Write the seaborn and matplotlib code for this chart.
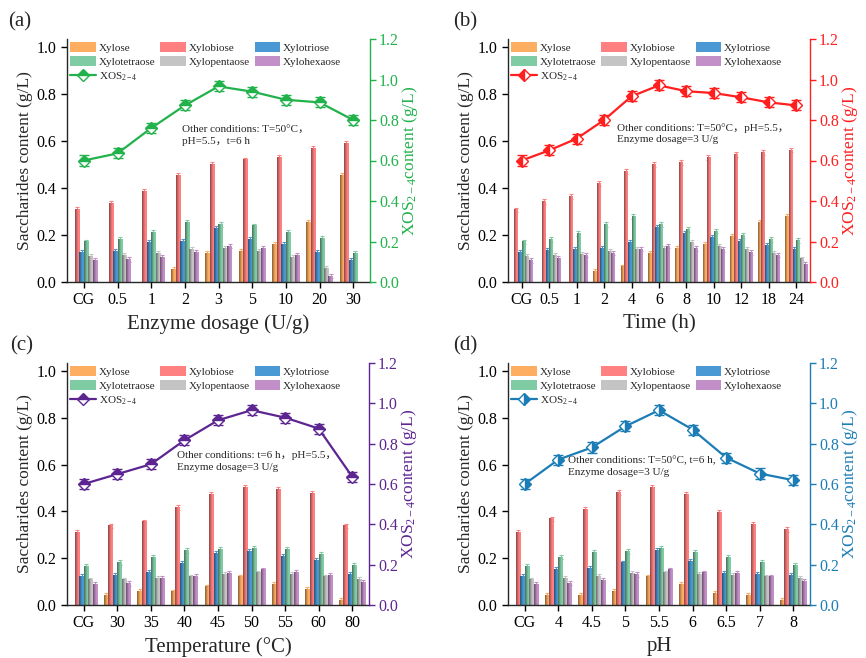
import numpy as np
import pandas as pd
import matplotlib
matplotlib.use('Agg')
import matplotlib.pyplot as plt
import seaborn as sns
from matplotlib.colors import to_rgb
from matplotlib.lines import Line2D
from matplotlib.patches import Patch

sns.set_style('ticks')
plt.rcParams['font.family'] = ['Liberation Serif', 'Noto Sans CJK SC']
plt.rcParams['mathtext.fontset'] = 'custom'
plt.rcParams['mathtext.rm'] = 'Liberation Serif'
plt.rcParams['mathtext.it'] = 'Liberation Serif:italic'

sugars = ['Xylose', 'Xylobiose', 'Xylotriose', 'Xylotetraose', 'Xylopentaose', 'Xylohexaose']
bar_colors = ['#FDAE61', '#FF8080', '#4A98D4', '#7FCBA4', '#C4C4C4', '#C38FC8']

# ---- (a) enzyme dosage ----
a_labels = ['CG', '0.5', '1', '2', '3', '5', '10', '20', '30']
a_xylose = [0, 0, 0, 0.054, 0.122, 0.132, 0.161, 0.252, 0.453]
a_xylobiose = [0.31, 0.335, 0.385, 0.455, 0.50, 0.52, 0.53, 0.57, 0.59]
a_xylotriose = [0.127, 0.132, 0.167, 0.174, 0.229, 0.181, 0.16, 0.127, 0.091]
a_xylotetraose = [0.171, 0.18, 0.21, 0.254, 0.244, 0.239, 0.212, 0.187, 0.123]
a_xylopentaose = [0.109, 0.113, 0.122, 0.139, 0.144, 0.132, 0.106, 0.059, 0]
a_xylohexaose = [0.091, 0.096, 0.103, 0.127, 0.153, 0.143, 0.113, 0.025, 0]
a_xos = [0.60, 0.635, 0.76, 0.872, 0.966, 0.94, 0.90, 0.887, 0.80]

# ---- (b) time ----
b_labels = ['CG', '0.5', '1', '2', '4', '6', '8', '10', '12', '18', '24']
b_xylose = [0, 0, 0, 0.044, 0.064, 0.122, 0.142, 0.161, 0.193, 0.252, 0.279]
b_xylobiose = [0.307, 0.342, 0.364, 0.42, 0.47, 0.50, 0.51, 0.53, 0.543, 0.553, 0.562]
b_xylotriose = [0.127, 0.135, 0.139, 0.144, 0.169, 0.231, 0.208, 0.191, 0.174, 0.157, 0.14]
b_xylotetraose = [0.171, 0.18, 0.208, 0.245, 0.278, 0.245, 0.224, 0.217, 0.197, 0.181, 0.176]
b_xylopentaose = [0.109, 0.113, 0.116, 0.129, 0.137, 0.143, 0.17, 0.153, 0.137, 0.123, 0.098]
b_xylohexaose = [0.091, 0.099, 0.115, 0.123, 0.14, 0.153, 0.143, 0.139, 0.125, 0.115, 0.076]
b_xos = [0.60, 0.65, 0.708, 0.80, 0.917, 0.971, 0.942, 0.933, 0.912, 0.887, 0.872]

# ---- (c) temperature ----
c_labels = ['CG', '30', '35', '40', '45', '50', '55', '60', '80']
c_xylose = [0, 0.04, 0.057, 0.056, 0.077, 0.12, 0.088, 0.068, 0.02]
c_xylobiose = [0.31, 0.338, 0.355, 0.417, 0.473, 0.503, 0.496, 0.477, 0.338]
c_xylotriose = [0.124, 0.128, 0.138, 0.178, 0.219, 0.229, 0.207, 0.189, 0.131]
c_xylotetraose = [0.165, 0.182, 0.205, 0.232, 0.236, 0.242, 0.236, 0.218, 0.171]
c_xylopentaose = [0.107, 0.107, 0.114, 0.12, 0.132, 0.137, 0.131, 0.12, 0.11]
c_xylohexaose = [0.088, 0.091, 0.113, 0.124, 0.134, 0.15, 0.14, 0.125, 0.095]
c_xos = [0.60, 0.649, 0.698, 0.817, 0.916, 0.966, 0.929, 0.875, 0.636]

# ---- (d) pH ----
d_labels = ['CG', '4', '4.5', '5', '5.5', '6', '6.5', '7', '8']
d_xylose = [0, 0.04, 0.04, 0.057, 0.12, 0.088, 0.048, 0.04, 0.02]
d_xylobiose = [0.31, 0.368, 0.41, 0.48, 0.503, 0.474, 0.395, 0.345, 0.323]
d_xylotriose = [0.124, 0.152, 0.158, 0.18, 0.232, 0.185, 0.135, 0.13, 0.128]
d_xylotetraose = [0.165, 0.205, 0.225, 0.229, 0.242, 0.225, 0.204, 0.181, 0.171]
d_xylopentaose = [0.107, 0.115, 0.121, 0.134, 0.137, 0.132, 0.128, 0.12, 0.115]
d_xylohexaose = [0.088, 0.094, 0.105, 0.13, 0.15, 0.137, 0.134, 0.12, 0.101]
d_xos = [0.60, 0.721, 0.781, 0.886, 0.966, 0.87, 0.731, 0.652, 0.619]

bar_err = 0.01
line_err = 0.025

panels = [
    dict(tag='(a)', labels=a_labels,
         series=[a_xylose, a_xylobiose, a_xylotriose, a_xylotetraose, a_xylopentaose, a_xylohexaose],
         xos=a_xos, color='#22B24C', fill='top', xlabel='Enzyme dosage (U/g)',
         note='Other conditions: T=50°C，\npH=5.5，t=6 h', note_xy=(0.38, 0.645)),
    dict(tag='(b)', labels=b_labels,
         series=[b_xylose, b_xylobiose, b_xylotriose, b_xylotetraose, b_xylopentaose, b_xylohexaose],
         xos=b_xos, color='#FF1F1F', fill='left', xlabel='Time (h)',
         note='Other conditions: T=50°C，pH=5.5，\nEnzyme dosage=3 U/g', note_xy=(0.36, 0.655)),
    dict(tag='(c)', labels=c_labels,
         series=[c_xylose, c_xylobiose, c_xylotriose, c_xylotetraose, c_xylopentaose, c_xylohexaose],
         xos=c_xos, color='#5C2591', fill='top', xlabel='Temperature (°C)',
         note='Other conditions: t=6 h，pH=5.5，\nEnzyme dosage=3 U/g', note_xy=(0.364, 0.635)),
    dict(tag='(d)', labels=d_labels,
         series=[d_xylose, d_xylobiose, d_xylotriose, d_xylotetraose, d_xylopentaose, d_xylohexaose],
         xos=d_xos, color='#1C7DB6', fill='right', xlabel='pH',
         note='Other conditions: T=50°C, t=6 h,\nEnzyme dosage=3 U/g', note_xy=(0.20, 0.615)),
]

W, H = 866, 658
fig = plt.figure(figsize=(W / 100, H / 100), dpi=100)
boxes = [(67, 39, 370, 282), (508, 39, 810, 282), (67, 363, 369, 605), (508, 363, 810, 605)]
tag_pos = [(20, 22), (465, 22), (22, 346), (465, 346)]

XOS = 'XOS$_{\\mathregular{2-4}}$'


def shade_bar(ax, patch, color):
    h = patch.get_height()
    if h <= 0:
        return
    x0, y0, w = patch.get_x(), patch.get_y(), patch.get_width()
    base = np.array(to_rgb(color))
    dark = base * 0.55
    t = np.linspace(0, 1, 24)
    ramp = np.clip(t / 0.65, 0, 1)[:, None]
    arr = (dark + (base - dark) * ramp)[None, :, :]
    ax.imshow(arr, extent=[x0, x0 + w, y0, y0 + h], aspect='auto',
              interpolation='bilinear', zorder=patch.get_zorder() + 0.1)


for p, (l, t, r, b), tp in zip(panels, boxes, tag_pos):
    ax = fig.add_axes([l / W, 1 - b / H, (r - l) / W, (b - t) / H])
    n = len(p['labels'])
    df = pd.DataFrame({
        'cond': np.tile(p['labels'], len(sugars)),
        'sugar': np.repeat(sugars, n),
        'value': np.concatenate([np.asarray(s, float) for s in p['series']]),
    })
    sns.barplot(data=df, x='cond', y='value', hue='sugar', order=p['labels'],
                hue_order=sugars, palette=bar_colors, width=0.8, errorbar=None,
                legend=False, ax=ax, linewidth=0, saturation=1)
    for cont, col in zip(ax.containers, bar_colors):
        xs, ys = [], []
        for patch in cont.patches:
            shade_bar(ax, patch, col)
            if patch.get_height() > 0:
                xs.append(patch.get_x() + patch.get_width() / 2)
                ys.append(patch.get_height())
        ax.errorbar(xs, ys, yerr=bar_err, fmt='none', ecolor=col, elinewidth=0.8,
                    capsize=1.6, capthick=0.8, zorder=0.5)
    ax.set_xlim(-0.5, n - 0.5)
    ax.set_ylim(0, 1.035)
    ax.set_yticks(np.arange(0, 1.01, 0.2))
    ax.set_yticklabels([f'{v:.1f}' for v in np.arange(0, 1.01, 0.2)])
    ax.tick_params(labelsize=11.5, length=4, width=1, direction='out', colors='black')
    ax.set_xlabel(p['xlabel'], fontsize=15, labelpad=4)
    ax.set_ylabel('Saccharides content (g/L)', fontsize=12.5, labelpad=3)
    ax.spines['top'].set_visible(False)
    ax.spines['right'].set_visible(False)
    for s in ['left', 'bottom']:
        ax.spines[s].set_linewidth(1)

    ax2 = ax.twinx()
    xpos = np.arange(n)
    col = p['color']
    ax2.errorbar(xpos, p['xos'], yerr=line_err, color=col, lw=1.6, capsize=3.5,
                 capthick=1.2, elinewidth=1.2, marker='D', markersize=6,
                 markerfacecolor=col, markerfacecoloralt='white', fillstyle=p['fill'],
                 markeredgecolor=col, markeredgewidth=1, zorder=3)
    ax2.set_ylim(0, 1.2)
    ax2.set_yticks(np.arange(0, 1.21, 0.2))
    ax2.set_yticklabels([f'{v:.1f}' for v in np.arange(0, 1.21, 0.2)])
    ax2.tick_params(labelsize=11.5, length=4, width=1, colors=col, pad=2.5)
    for s in ['top', 'left', 'bottom']:
        ax2.spines[s].set_visible(False)
    ax2.spines['right'].set_color(col)
    ax2.spines['right'].set_linewidth(1)
    ax2.set_ylabel(XOS + 'content (g/L)', fontsize=12.5, color=col, labelpad=1)

    handles = [Patch(facecolor=c, edgecolor='none') for c in bar_colors]
    line_h = Line2D([], [], color=col, lw=1.6, marker='D', markersize=6,
                    markerfacecolor=col, markerfacecoloralt='white',
                    fillstyle=p['fill'], markeredgecolor=col)
    order_h = [handles[0], handles[3], line_h, handles[1], handles[4], handles[2], handles[5]]
    order_l = [sugars[0], sugars[3], XOS, sugars[1], sugars[4], sugars[2], sugars[5]]
    ax2.legend(order_h, order_l, ncol=3, loc='upper left', bbox_to_anchor=(0.0, 1.0),
               frameon=False, fontsize=8, handlelength=2.3, handleheight=1.0,
               handletextpad=0.25, columnspacing=0.45, labelspacing=0.3,
               borderaxespad=0.2, borderpad=0.1)

    ax2.text(p['note_xy'][0], p['note_xy'][1], p['note'], transform=ax2.transAxes,
             fontsize=8, va='top', ha='left', linespacing=1.35,
             family=['Liberation Serif', 'Noto Sans CJK SC'])

    fig.text(tp[0] / W, 1 - tp[1] / H, p['tag'], fontsize=15, ha='center', va='center')

fig.savefig('out.png', dpi=100)
